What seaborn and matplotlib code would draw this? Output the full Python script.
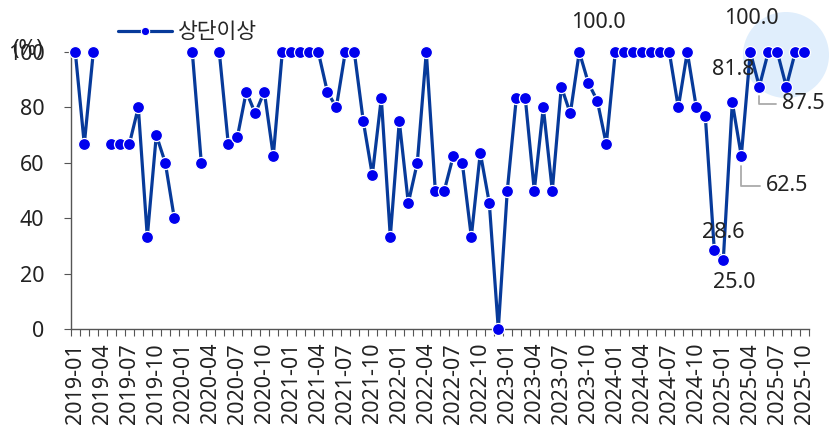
import numpy as np
import pandas as pd
import matplotlib
matplotlib.use("Agg")
import matplotlib.pyplot as plt
from matplotlib.lines import Line2D
from matplotlib.patches import Ellipse
import seaborn as sns

# ---------------- data ----------------
months = [str(p) for p in pd.period_range("2019-01", "2025-10", freq="M")]
series_name = "상단이상"
values = [
    100, 66.7, 100, np.nan, 66.7, 66.7, 66.7, 80, 33.3, 70, 60, 40,          # 2019
    np.nan, 100, 60, np.nan, 100, 66.7, 69.2, 85.7, 77.8, 85.7, 62.5, 100,    # 2020
    100, 100, 100, 100, 85.7, 80, 100, 100, 75, 55.6, 83.3, 33.3,             # 2021
    75, 45.5, 60, 100, 50, 50, 62.5, 60, 33.3, 63.6, 45.5, 0,                 # 2022
    50, 83.3, 83.3, 50, 80, 50, 87.5, 77.8, 100, 88.9, 82.4, 66.7,            # 2023
    100, 100, 100, 100, 100, 100, 100, 80, 100, 80, 76.9, 28.6,               # 2024
    25, 81.8, 62.5, 100, 87.5, 100, 100, 87.5, 100, 100,                      # 2025
]
yticks = [0, 20, 40, 60, 80, 100]
# annotated points: (month, text offset in pixels, leader line)
annotations = [
    ("2023-09", (19, 29), False),
    ("2024-12", (9, 17), False),
    ("2025-01", (11, -23), False),
    ("2025-02", (1, 33), False),
    ("2025-03", (46, -30), True),
    ("2025-04", (1, 34), False),
    ("2025-05", (44, -17), True),
]

df = pd.DataFrame({"month": months, "value": values})
df["pos"] = np.arange(len(df))
df["seg"] = df["value"].isna().cumsum()
dplot = df.dropna()

# ---------------- style ----------------
sns.set_style("white")
plt.rcParams["font.family"] = ["Noto Sans", "Noto Sans CJK KR", "DejaVu Sans"]
FS = 15.5
LINE = "#073a9a"
MARK = "#0000ee"
SPINE = "#555555"
TXT = "#222222"

fig = plt.figure(figsize=(8.31, 4.29), dpi=100)
ax = fig.add_axes([70.8 / 831, 1 - 329 / 429, 738 / 831, 277 / 429])
ax.patch.set_alpha(0)

# highlight circle (decoration)
fig.add_artist(Ellipse((786 / 831, 1 - 55 / 429), 2 * 43 / 831, 2 * 43 / 429,
                       transform=fig.transFigure, facecolor="#e0eefc",
                       edgecolor="none", zorder=-5))

sns.lineplot(data=dplot, x="pos", y="value", units="seg", estimator=None,
             color=LINE, linewidth=2.3, ax=ax, legend=False, clip_on=False,
             zorder=2)
sns.scatterplot(data=dplot, x="pos", y="value", color=MARK, s=75,
                edgecolor="white", linewidth=0.9, ax=ax, legend=False,
                clip_on=False, zorder=3)

ax.set_xlim(-0.5, len(months) - 0.5)
ax.set_ylim(0, 100)
ax.set_xlabel("")
ax.set_ylabel("")

major = list(range(0, len(months), 3))
ax.set_xticks(major)
ax.set_xticklabels([months[i] for i in major], rotation=90, fontsize=FS,
                   color=TXT)
ax.set_xticks(np.arange(-0.5, len(months) + 0.5, 1), minor=True)
ax.tick_params(axis="x", which="major", length=0, pad=10)
ax.tick_params(axis="x", which="minor", length=5, width=0.8, color=SPINE,
               direction="out", bottom=True)
ax.set_yticks(yticks)
ax.set_yticklabels([str(t) for t in yticks], fontsize=FS, color=TXT)
ax.tick_params(axis="y", length=5, width=0.8, color=SPINE, direction="out",
               left=True, pad=14)

for s in ["top", "right"]:
    ax.spines[s].set_visible(False)
for s in ["left", "bottom"]:
    ax.spines[s].set_color(SPINE)
    ax.spines[s].set_linewidth(1.0)

# annotations
lookup = dict(zip(df["month"], zip(df["pos"], df["value"])))
for m, off, leader in annotations:
    x, y = lookup[m]
    kw = dict(xy=(x, y), xytext=off, textcoords="offset pixels",
              ha="center", va="center", fontsize=FS, color=TXT,
              annotation_clip=False, zorder=4)
    if leader:
        kw["arrowprops"] = dict(arrowstyle="-", color="#aaaaaa", lw=1.3,
                                connectionstyle="angle,angleA=0,angleB=90",
                                shrinkA=2, shrinkB=7)
    ax.annotate(f"{y:.1f}", **kw)

# unit label (overlaps the 100 tick label, as in the original)
fig.text(28 / 831, 1 - 49 / 429, "(%)", ha="center", va="center",
         fontsize=FS, color=TXT)

# legend
handle = Line2D([], [], color=LINE, lw=2.3, marker="o", markersize=6,
                markerfacecolor=MARK, markeredgecolor="white",
                markeredgewidth=0.8)
fig.legend([handle], [series_name], loc="center left",
           bbox_to_anchor=(118 / 831, 1 - 33 / 429), bbox_transform=fig.transFigure,
           frameon=False, fontsize=FS, handlelength=2.5, handletextpad=0.3,
           borderpad=0, borderaxespad=0)

fig.savefig("out.png", dpi=100)
